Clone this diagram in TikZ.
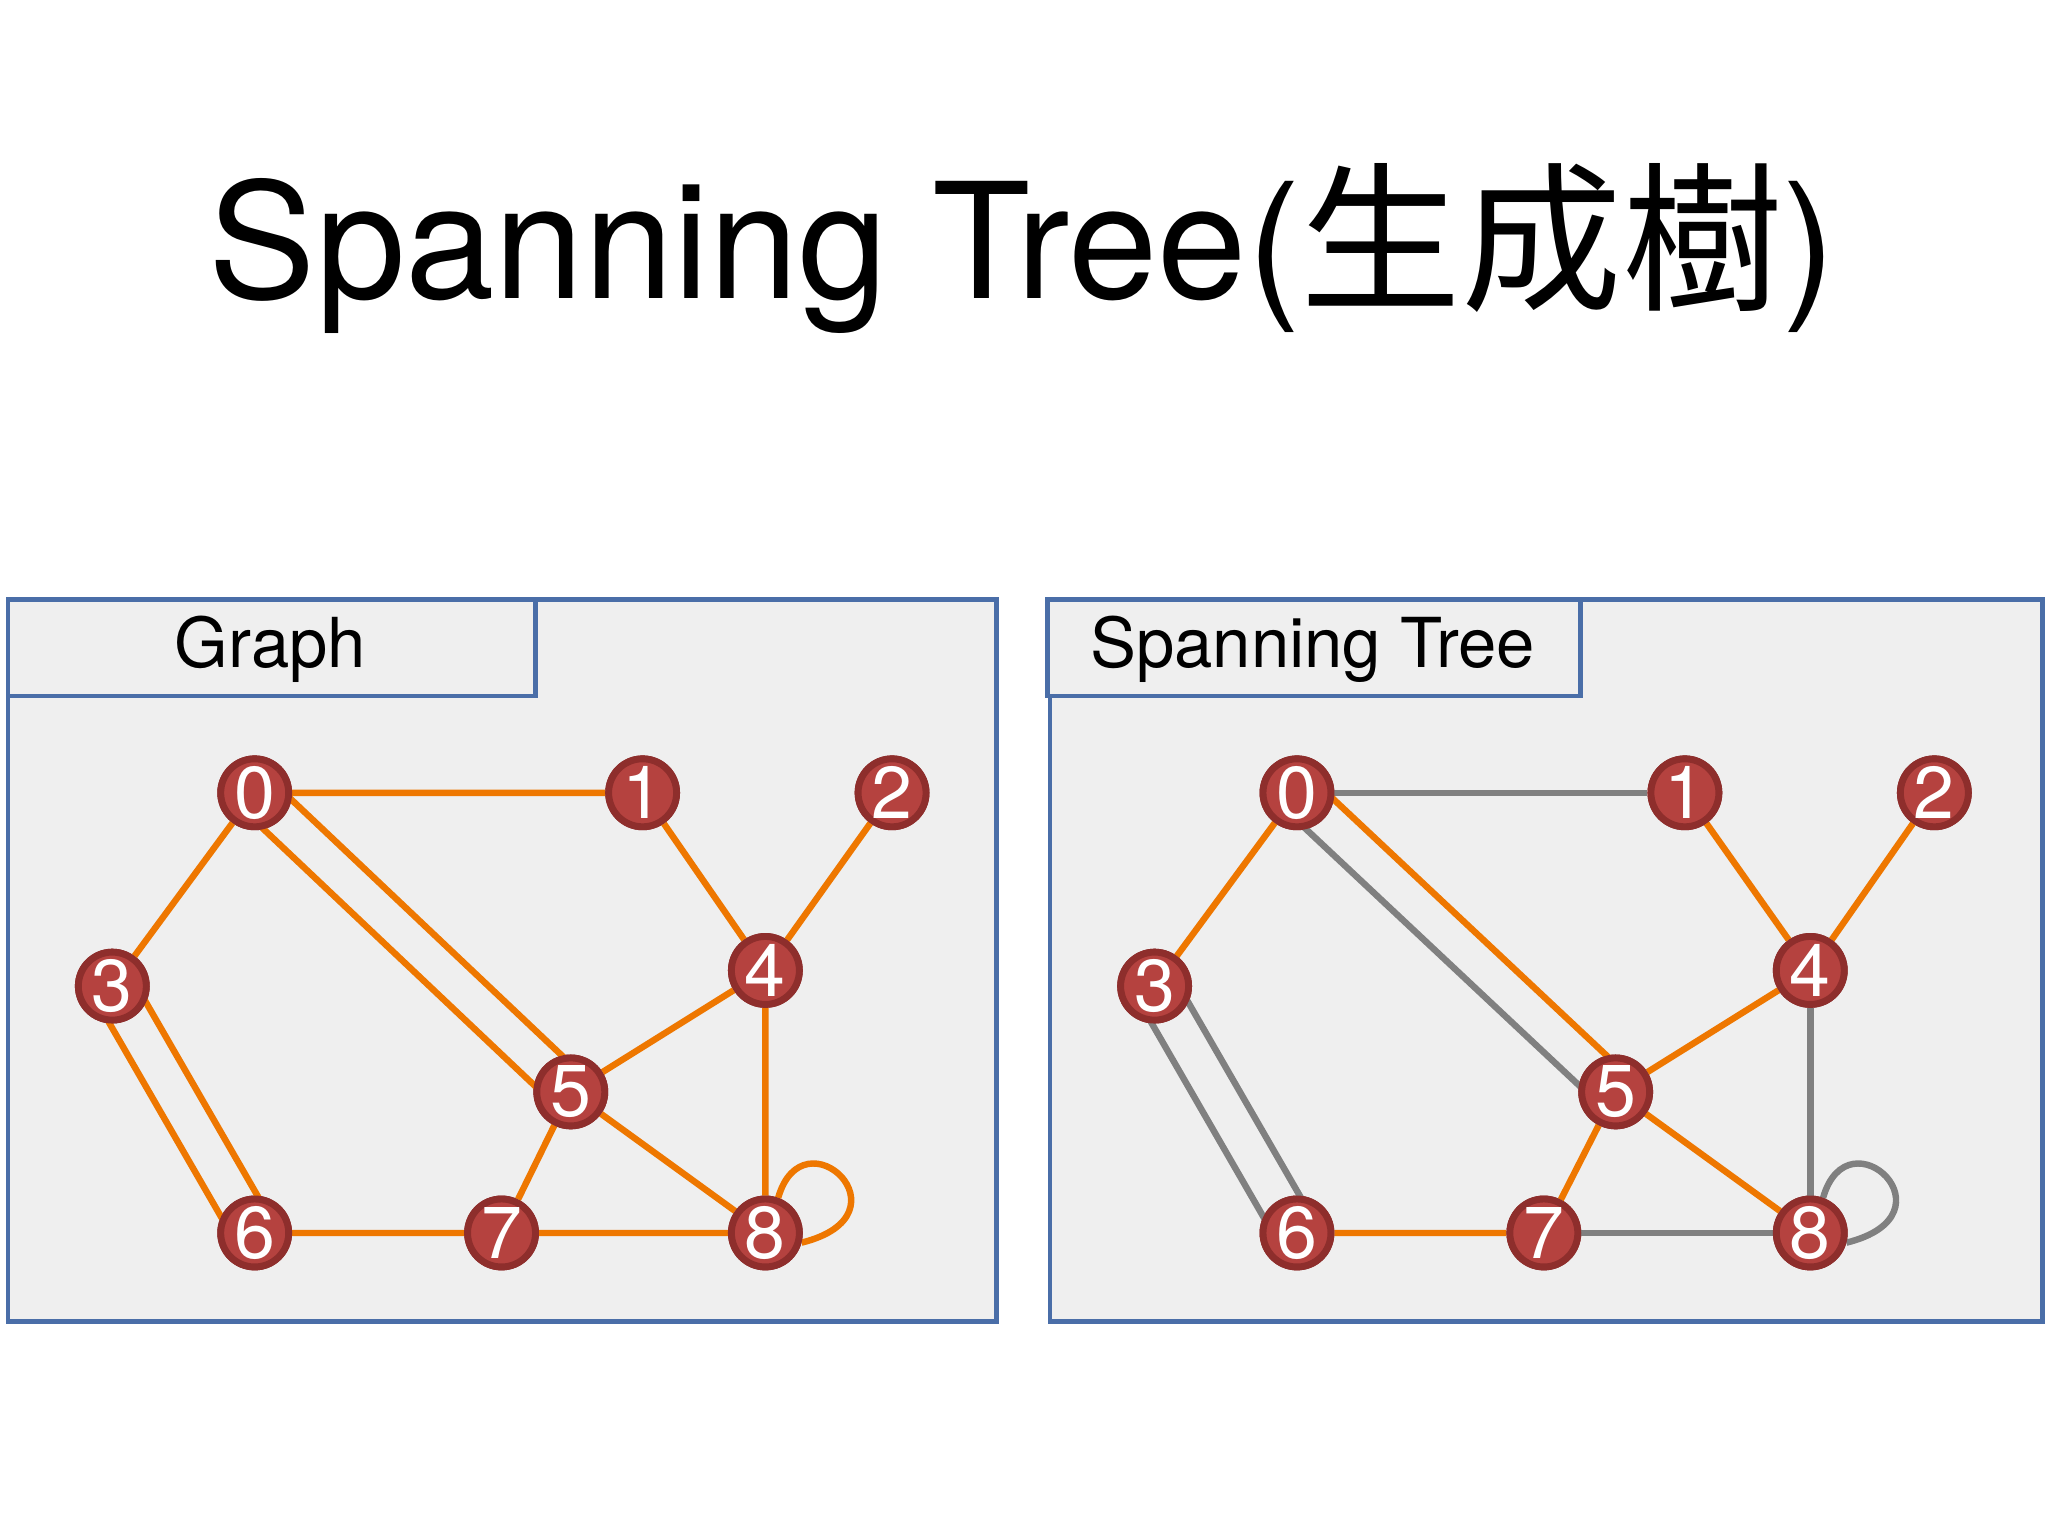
\documentclass[tikz,border=0pt]{standalone}
\usepackage{fontspec}
\setmainfont{TeX Gyre Heros}
\newfontfamily\cjk{Noto Sans CJK TC}
\usetikzlibrary{calc}
\definecolor{edgeor}{HTML}{EE7700}
\definecolor{edgegr}{HTML}{808080}
\definecolor{vfill}{HTML}{B5423F}
\definecolor{vline}{HTML}{8E2E2C}
\definecolor{panel}{HTML}{EFEFEF}
\definecolor{frame}{HTML}{4A6EA8}
\begin{document}
\begin{tikzpicture}[x=0.01cm,y=-0.01cm,
  vert/.style={draw=vline, fill=vfill, circle, line width=1.5pt, minimum size=0.52cm, inner sep=0pt, text=white, font=\fontsize{16}{16}\selectfont},
  oe/.style={draw=edgeor, line width=1.4pt},
  ge/.style={draw=edgegr, line width=1.4pt},
  box/.style={draw=frame, fill=panel, line width=1pt}]
\useasboundingbox (0,0) rectangle (1568,1176);
\node[font=\fontsize{35}{35}\selectfont] (title) at (783,190) {Spanning Tree({\cjk 生成樹})};

% left panel
\draw[box] (6,459) rectangle (763,1012);
\draw[box] (6,459) rectangle (410,533);
\node[font=\fontsize{15}{15}\selectfont] (lt) at (207,497) {Graph};
\node[vert] (a0) at (195,607) {0};
\node[vert] (a1) at (492,607) {1};
\node[vert] (a2) at (683,607) {2};
\node[vert] (a3) at (86,755) {3};
\node[vert] (a4) at (586,743) {4};
\node[vert] (a5) at (437,836) {5};
\node[vert] (a6) at (195,944) {6};
\node[vert] (a7) at (384,944) {7};
\node[vert] (a8) at (586,944) {8};

% right panel
\draw[box] (804,459) rectangle (1564,1012);
\draw[box] (802,459) rectangle (1210,533);
\node[font=\fontsize{15}{15}\selectfont] (rt) at (1005,497) {Spanning Tree};
\node[vert] (b0) at (993,607) {0};
\node[vert] (b1) at (1290,607) {1};
\node[vert] (b2) at (1481,607) {2};
\node[vert] (b3) at (884,755) {3};
\node[vert] (b4) at (1386,743) {4};
\node[vert] (b5) at (1237,836) {5};
\node[vert] (b6) at (993,944) {6};
\node[vert] (b7) at (1182,944) {7};
\node[vert] (b8) at (1386,944) {8};

% edges, vertices redrawn on top afterwards
\path[oe] (a0) -- (a1) (a0) -- (a3) (a1) -- (a4) (a2) -- (a4)
  (a4) -- (a5) (a4) -- (a8) (a5) -- (a7) (a5) -- (a8) (a6) -- (a7) (a7) -- (a8);
\path[oe] ($(a0)+(-11,11)$) -- ($(a5)+(-11,11)$)
  ($(a0)+(11,-11)$) -- ($(a5)+(11,-11)$);
\path[oe] ($(a3)+(-14,8)$) -- ($(a6)+(-14,8)$)
  ($(a3)+(14,-8)$) -- ($(a6)+(14,-8)$);
\path[oe] (a8.70) .. controls (615,850) and (700,930) .. (a8.-15);
\path[ge] (b0) -- (b1) (b4) -- (b8) (b7) -- (b8);
\path[oe] (b0) -- (b3) (b1) -- (b4) (b2) -- (b4) (b4) -- (b5) (b5) -- (b7) (b5) -- (b8) (b6) -- (b7);
\path[ge] ($(b0)+(-11,11)$) -- ($(b5)+(-11,11)$);
\path[oe] ($(b0)+(11,-11)$) -- ($(b5)+(11,-11)$);
\path[ge] ($(b3)+(-14,8)$) -- ($(b6)+(-14,8)$)
  ($(b3)+(14,-8)$) -- ($(b6)+(14,-8)$);
\path[ge] (b8.70) .. controls (1415,850) and (1500,930) .. (b8.-15);
\foreach \p in {a,b}
  \foreach \i in {0,...,8}
    \node[vert] at (\p\i) {\i};
\end{tikzpicture}
\end{document}
